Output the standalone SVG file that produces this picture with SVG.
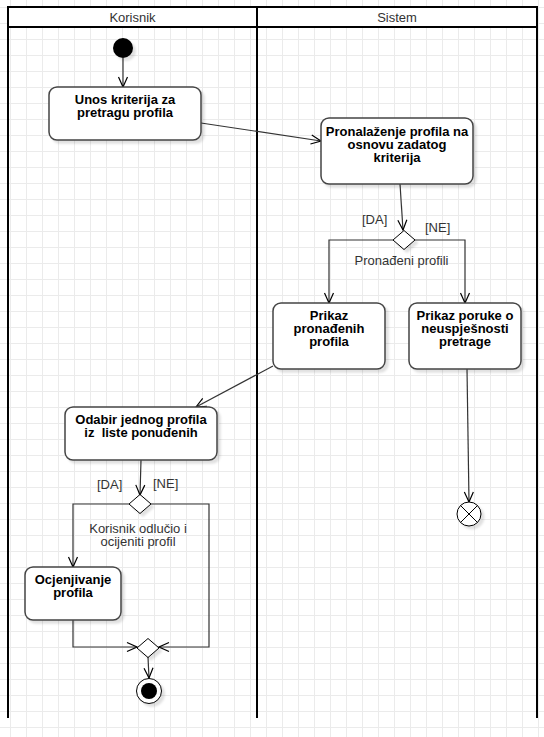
<svg xmlns="http://www.w3.org/2000/svg" width="544" height="737" viewBox="0 0 544 737">
  <style>
    .lane { fill: none; stroke: #000; stroke-width: 2; }
    .head { fill: #fff; stroke: #000; stroke-width: 2; }
    .title { font-family: "Liberation Sans", Arial, sans-serif; font-size: 13px; fill: #333; text-anchor: middle; }
    .box { fill: #fff; stroke: #444; stroke-width: 1.5; }
    .txt { font-family: "Liberation Sans", Arial, sans-serif; font-size: 13px; font-weight: bold; fill: #000; text-anchor: middle; white-space: pre; }
    .lbl { font-family: "Liberation Sans", Arial, sans-serif; font-size: 13px; fill: #333; white-space: pre; }
    .mid { text-anchor: middle; }
    .edge { fill: none; stroke: #333; stroke-width: 1.2; marker-end: url(#open); }
    .line { fill: none; stroke: #333; stroke-width: 1.2; }
    .dec { fill: #fff; stroke: #000; stroke-width: 1; }
  </style>
  <defs>
    <pattern id="grid" width="16" height="16" x="10" y="7" patternUnits="userSpaceOnUse">
      <path d="M0.5 0V16M0 0.5H16" fill="none" stroke="#ebebeb" stroke-width="1"/>
    </pattern>
    <marker id="open" viewBox="0 0 12 12" refX="11" refY="6" markerWidth="12" markerHeight="12" orient="auto" markerUnits="userSpaceOnUse">
      <path d="M1 1.5L11 6L1 10.5" fill="none" stroke="#000" stroke-width="1.2"/>
    </marker>
    <filter id="shadow" x="-20%" y="-20%" width="150%" height="150%">
      <feGaussianBlur in="SourceAlpha" stdDeviation="1.2"/>
      <feOffset dx="3" dy="3" result="o"/>
      <feFlood flood-color="#000" flood-opacity="0.12"/>
      <feComposite in2="o" operator="in"/>
      <feMerge><feMergeNode/><feMergeNode in="SourceGraphic"/></feMerge>
    </filter>
  </defs>

  <!-- background grid -->
  <rect width="544" height="737" fill="#fff"/>
  <rect width="544" height="737" fill="url(#grid)"/>

  <!-- swimlanes -->
  <g id="lanes">
    <rect class="head" x="8" y="7" width="249" height="20"/>
    <rect class="head" x="257" y="7" width="280" height="20"/>
    <path class="lane" d="M8 7V718M257 7V718M537 7V718"/>
    <text class="title" x="132.5" y="21.5">Korisnik</text>
    <text class="title" x="397" y="21.5">Sistem</text>
  </g>

  <!-- connectors -->
  <g id="connectors">
    <path class="edge" d="M123 58V87"/>
    <path class="edge" d="M201 123L321 141"/>
    <path class="edge" d="M400 184L403 230"/>
    <path class="edge" d="M393 240H329V303"/>
    <path class="edge" d="M415 240H465V303"/>
    <path class="edge" d="M467 369L469 502"/>
    <path class="edge" d="M273 366L196 407"/>
    <path class="edge" d="M141 460L140 495"/>
    <path class="edge" d="M129 504H73V567"/>
    <path class="edge" d="M151 504H209V647H159"/>
    <path class="edge" d="M73 620V647H137"/>
    <path class="edge" d="M148 657L149 678"/>
    <text class="lbl" x="362" y="224">[DA]</text>
    <text class="lbl" x="425" y="232">[NE]</text>
    <text class="lbl mid" x="401.5" y="265">Pronađeni profili</text>
    <text class="lbl" x="97" y="489">[DA]</text>
    <text class="lbl" x="153" y="488">[NE]</text>
    <text class="lbl mid" x="138" y="533">Korisnik odlučio i</text>
    <text class="lbl mid" x="138" y="546">ocijeniti profil</text>
  </g>

  <!-- nodes -->
  <g id="start">
    <circle cx="123" cy="48" r="10" fill="#000" filter="url(#shadow)"/>
  </g>

  <g id="unos">
    <rect class="box" x="49" y="87" width="152" height="53" rx="8" filter="url(#shadow)"/>
    <text class="txt" x="125" y="104">Unos kriterija za</text>
    <text class="txt" x="125" y="117">pretragu profila</text>
  </g>

  <g id="pronalazenje">
    <rect class="box" x="321" y="118" width="152" height="66" rx="8" filter="url(#shadow)"/>
    <text class="txt" x="397" y="136">Pronalaženje profila na</text>
    <text class="txt" x="397" y="149">osnovu zadatog</text>
    <text class="txt" x="397" y="162">kriterija</text>
  </g>

  <g id="odluka1">
    <path class="dec" d="M404 230.5L415 240L404 249.5L393 240Z" filter="url(#shadow)"/>
  </g>

  <g id="prikaz">
    <rect class="box" x="273" y="303" width="112" height="66" rx="8" filter="url(#shadow)"/>
    <text class="txt" x="329" y="320">Prikaz</text>
    <text class="txt" x="329" y="333">pronađenih</text>
    <text class="txt" x="329" y="346">profila</text>
  </g>

  <g id="poruka">
    <rect class="box" x="409" y="303" width="112" height="66" rx="8" filter="url(#shadow)"/>
    <text class="txt" x="465" y="320">Prikaz poruke o</text>
    <text class="txt" x="465" y="333">neuspješnosti</text>
    <text class="txt" x="465" y="346">pretrage</text>
  </g>

  <g id="kraj-toka">
    <circle cx="469" cy="514" r="12" fill="#fff" stroke="#000" stroke-width="1" filter="url(#shadow)"/>
    <path d="M460.5 505.5L477.5 522.5M477.5 505.5L460.5 522.5" stroke="#000" stroke-width="1"/>
  </g>

  <g id="odabir">
    <rect class="box" x="65" y="407" width="152" height="53" rx="8" filter="url(#shadow)"/>
    <text class="txt" x="141" y="424">Odabir jednog profila</text>
    <text class="txt" x="141" y="437">iz  liste ponuđenih</text>
  </g>

  <g id="odluka2">
    <path class="dec" d="M140 494.5L151 504L140 513.5L129 504Z" filter="url(#shadow)"/>
  </g>

  <g id="ocjenjivanje">
    <rect class="box" x="25" y="567" width="96" height="53" rx="8" filter="url(#shadow)"/>
    <text class="txt" x="73" y="584">Ocjenjivanje</text>
    <text class="txt" x="73" y="597">profila</text>
  </g>

  <g id="spajanje">
    <path class="dec" d="M148 638.5L159 648L148 657.5L137 648Z" filter="url(#shadow)"/>
  </g>

  <g id="kraj">
    <circle cx="149" cy="691" r="12.5" fill="#fff" stroke="#000" stroke-width="1" filter="url(#shadow)"/>
    <circle cx="149" cy="691" r="8" fill="#000"/>
  </g>
</svg>
